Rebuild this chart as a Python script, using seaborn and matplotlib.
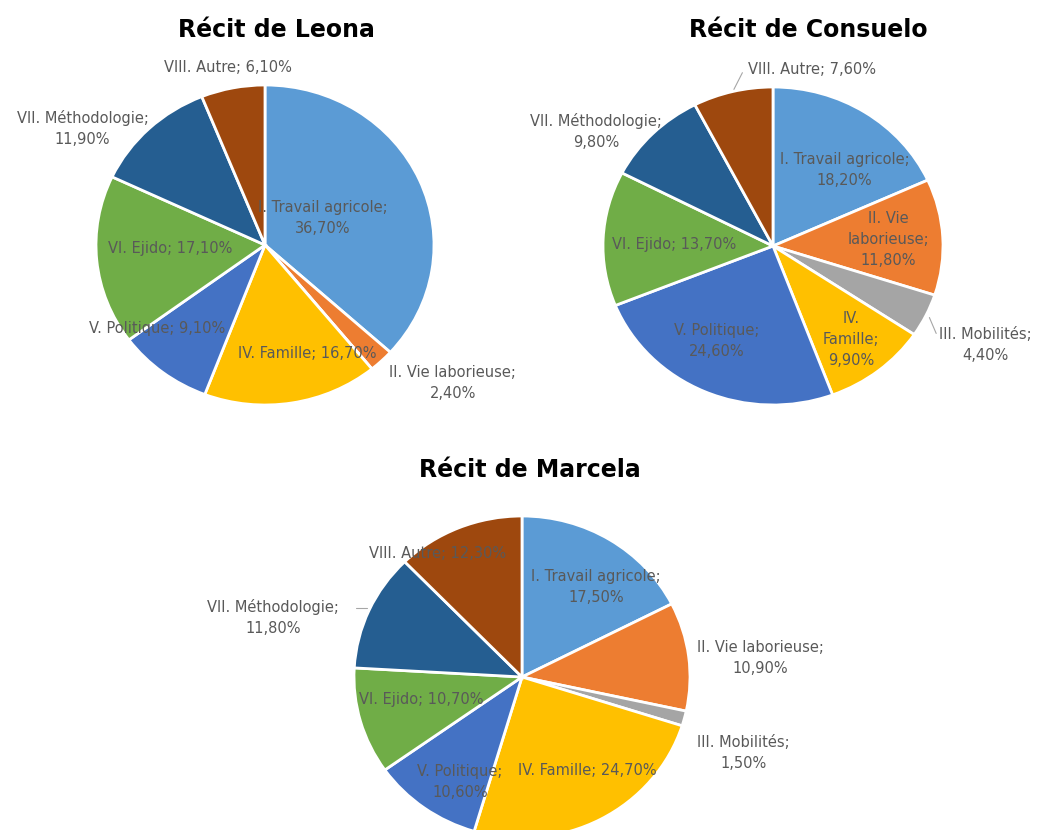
import matplotlib
matplotlib.use('Agg')
import matplotlib.pyplot as plt
import seaborn as sns

# %% Données
categories = ['I. Travail agricole', 'II. Vie laborieuse', 'III. Mobilités',
              'IV. Famille', 'V. Politique', 'VI. Ejido',
              'VII. Méthodologie', 'VIII. Autre']

leona = [36.7, 2.4, 0.0, 16.7, 9.1, 17.1, 11.9, 6.1]
consuelo = [18.2, 11.8, 4.4, 9.9, 24.6, 13.7, 9.8, 7.6]
marcela = [17.5, 10.9, 1.5, 24.7, 10.6, 10.7, 11.8, 12.3]

titres = ['Récit de Leona', 'Récit de Consuelo', 'Récit de Marcela']

# %% Mise en page (positions des étiquettes, en rayons)
sns.set_theme(style='white')
plt.rcParams['font.family'] = ['DejaVu Sans']
couleurs = sns.color_palette(['#5B9BD5', '#ED7D31', '#A5A5A5', '#FFC000',
                              '#4472C4', '#70AD47', '#255E91', '#9E480E'])

W, H = 1040, 830
# boite du camembert en pixels: gauche, droite, haut, bas
boites = [(96, 434, 85, 405), (603, 943, 87, 405), (354, 690, 516, 838)]


def fmt(v):
    return f'{v:.2f}'.replace('.', ',') + '%'


# position (x, y) en rayons et mode de coupure de chaque étiquette
etiq_pos = [
    {0: (0.34, 0.17, 2), 1: (1.11, -0.86, 2), 3: (0.25, -0.675, 1),
     4: (-0.64, -0.52, 1), 5: (-0.56, -0.02, 1), 6: (-1.08, 0.73, 2),
     7: (-0.22, 1.11, 1)},
    {0: (0.42, 0.48, 2), 1: (0.68, 0.04, 3), 2: (1.25, -0.62, 2),
     3: (0.46, -0.59, 4), 4: (-0.33, -0.60, 2), 5: (-0.58, 0.01, 1),
     6: (-1.04, 0.72, 2), 7: (0.23, 1.11, 1)},
    {0: (0.44, 0.56, 2), 1: (1.42, 0.12, 2), 2: (1.32, -0.47, 2),
     3: (0.39, -0.58, 1), 4: (-0.37, -0.65, 2), 5: (-0.60, -0.14, 1),
     6: (-1.48, 0.37, 2), 7: (-0.50, 0.77, 1)},
]

# lignes de rappel (en rayons)
rappels = [
    [],
    [((-0.23, 0.985), (-0.18, 1.09)), ((0.92, -0.45), (0.96, -0.55))],
    [((-0.99, 0.43), (-0.92, 0.43))],
]


def texte(cat, v, mode):
    if mode == 1:
        return f'{cat}; {fmt(v)}'
    if mode == 2:
        return f'{cat};\n{fmt(v)}'
    if mode == 3:
        a, b = cat.split(' ', 1)
        b1, b2 = b.split(' ')
        return f'{a} {b1}\n{b2};\n{fmt(v)}'
    a, b = cat.split(' ', 1)
    return f'{a}\n{b};\n{fmt(v)}'


fig = plt.figure(figsize=(W / 100, H / 100), dpi=100)

for k, vals in enumerate([leona, consuelo, marcela]):
    g, d, h, b = boites[k]
    ax = fig.add_axes([g / W, 1 - b / H, (d - g) / W, (b - h) / H])
    ax.pie(vals, colors=couleurs, startangle=90, counterclock=False,
           wedgeprops=dict(edgecolor='white', linewidth=2))
    ax.set_aspect('auto')
    ax.set_xlim(-1, 1)
    ax.set_ylim(-1, 1)
    ax.axis('off')
    for i, (x, y, mode) in etiq_pos[k].items():
        ax.text(x, y, texte(categories[i], vals[i], mode), ha='center',
                va='center', fontsize=10.5, color='#595959', linespacing=1.5)
    for (x0, y0), (x1, y1) in rappels[k]:
        ax.plot([x0, x1], [y0, y1], color='#A6A6A6', lw=0.8, clip_on=False)

fig.text(276 / W, 1 - 30 / H, titres[0], ha='center', va='center',
         fontsize=17, fontweight='bold', color='black')
fig.text(808 / W, 1 - 30 / H, titres[1], ha='center', va='center',
         fontsize=17, fontweight='bold', color='black')
fig.text(530 / W, 1 - 470 / H, titres[2], ha='center', va='center',
         fontsize=17, fontweight='bold', color='black')

plt.savefig('out.png', dpi=100, facecolor='white')
